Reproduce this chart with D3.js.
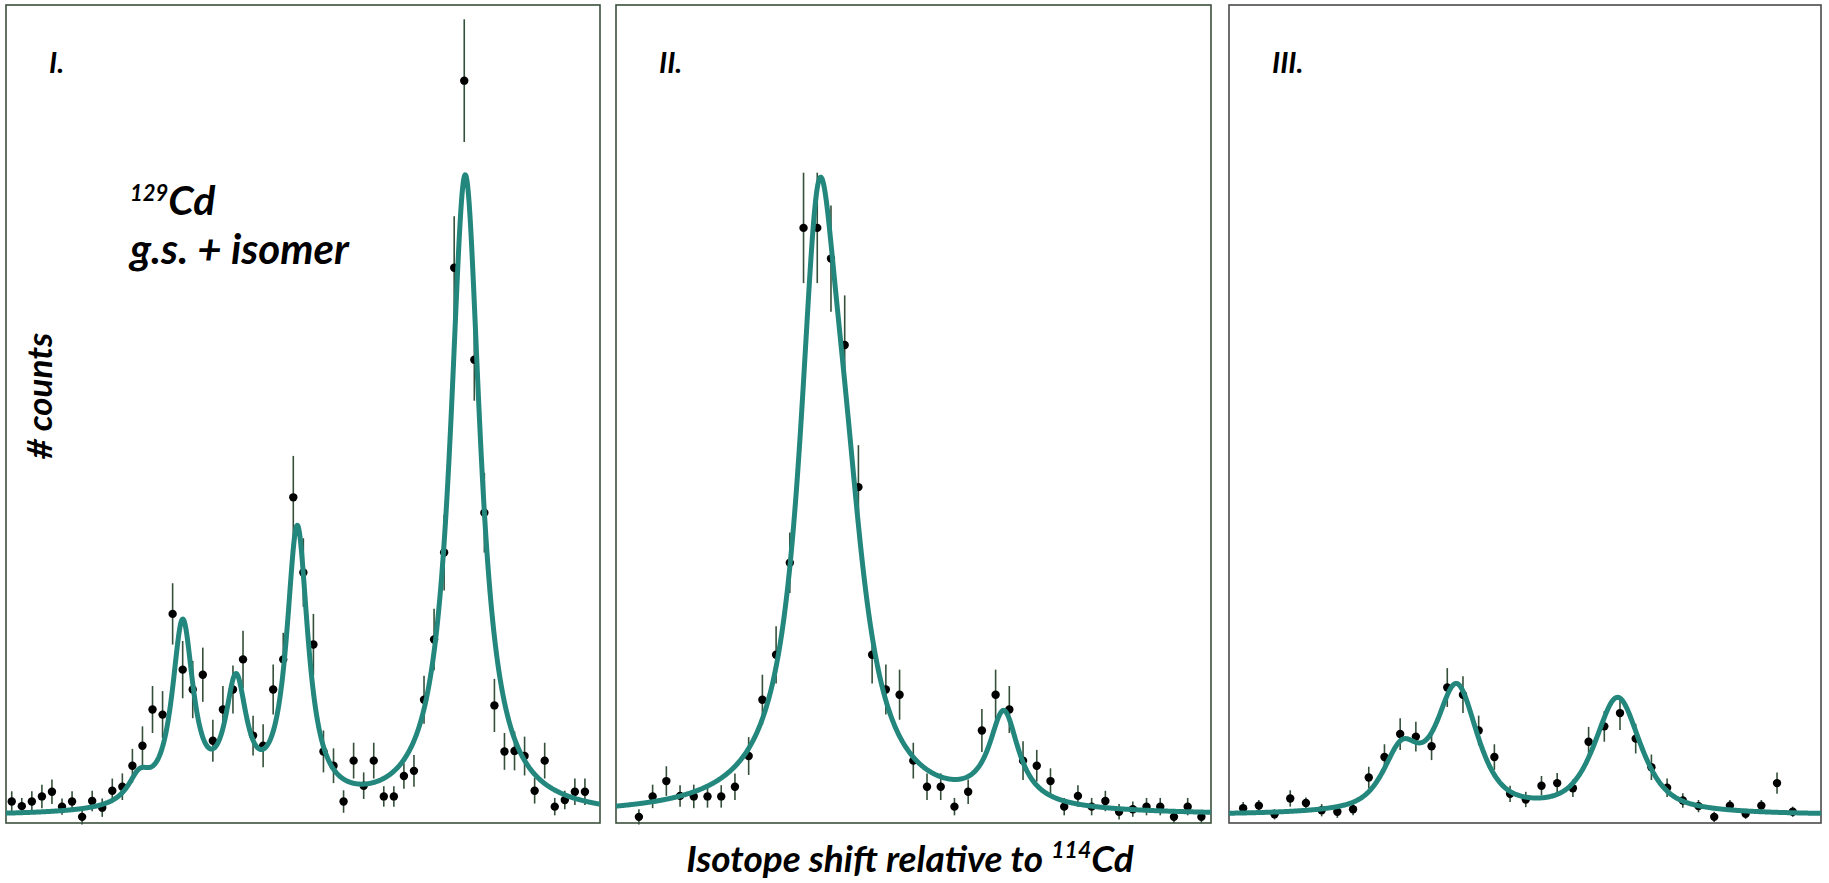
<!DOCTYPE html>
<html>
<head>
<meta charset="utf-8">
<script src="https://cdnjs.cloudflare.com/ajax/libs/d3/7.8.5/d3.min.js"></script>
<style>
body{margin:0;background:#fff;}
svg text{font-family:Lato,"Open Sans",sans-serif;font-weight:bold;font-style:italic;fill:#000;}
</style>
</head>
<body>
<svg id="chart" width="1829" height="883"></svg>
<script>
// counts per scan step
var panelNames = ["I.", "II.", "III."];

var countsI = [4.2,3.3,4.2,5.2,6.1,3.2,4.2,1.2,4.3,3.0, 6.3,7.1,11.2,15.1,22.2,21.2,40.9,30.0,26.1,29.0,
    16.1,22.2,26.1,32.0,17.1,15.1,26.1,32.0,63.7,49.0, 34.9,14.0,11.2,4.2,12.2,7.3,12.2,5.2,5.2,9.2,
    10.2,24.1,35.9,52.9,108.6,145.2,90.6,60.7,23.0,14.0, 14.1,13.1,6.3,12.2,3.2,4.5,6.1,6.1];
var errorsI = [2.0,1.6,2.0,2.3,2.4,1.6,2.0,1.5,2.0,1.8, 2.4,2.6,3.3,3.8,4.6,4.6,6.0,5.6,5.6,5.3,
    4.1,4.6,4.7,5.6,3.9,4.2,4.9,5.2,8.1,6.7, 6.0,4.1,3.4,2.2,3.5,2.6,3.5,2.0,2.0,2.5,
    3.1,4.7,6.0,7.4,10.1,12.0,8.0,7.8,5.2,3.6, 3.8,3.8,2.5,3.5,1.7,1.8,2.6,2.6];

var countsII = [1.2,5.2,8.2,5.3,5.2,5.2,5.2,7.1,13.1,24.1, 32.9,50.9,116.4,116.4,110.4,93.5,65.7,32.9,26.1,25.1,
    12.2,7.1,7.1,3.2,6.1,18.1,25.1,22.2,12.2,11.2, 8.2,3.2,5.3,3.2,4.3,2.2,2.7,3.2,3.2,1.2, 3.2,1.2];
var errorsII = [1.5,2.3,2.9,2.1,2.3,2.2,2.2,2.6,3.7,4.9, 5.6,5.9,10.8,10.8,10.4,9.7,8.2,5.6,4.9,4.9,
    3.5,2.6,2.6,1.7,2.4,4.2,4.9,4.6,3.8,3.1, 2.5,1.7,2.1,1.7,2.0,1.5,1.5,1.7,1.7,1.2, 1.7,1.2];

var countsIII = [2.9,3.4,1.7,4.8,3.9,2.5,2.2,2.7,8.9,12.9, 17.4,16.9,15.0,26.5,25.1,18.1,12.9,5.7,4.6,7.3,
    7.8,6.8,15.9,18.9,21.5,16.5,10.9,6.9,4.4,3.3, 1.2,3.4,1.8,3.4,7.8,2.2];
var errorsIII = [1.2,1.1,1.0,1.6,1.1,1.2,1.2,1.2,2.1,2.5, 3.1,2.9,2.7,3.8,3.6,2.9,2.5,1.6,1.5,1.9,
    2.0,1.7,2.9,3.0,3.3,2.9,2.5,1.8,1.4,1.2, 1.0,1.1,1.0,1.1,2.1,1.0];

// fitted peaks (centre in scan steps, height in counts, half width)
var fitCentresI = [12.7, 17.0, 22.3, 28.4, 45.1];
var fitHeightsI = [5.2, 35.6, 22.7, 54.0, 125.0];
var fitWidthsI = [1.4, 1.3, 1.3, 1.3, 1.8];
var fitCentresII = [13.1, 15.0, 26.6];
var fitHeightsII = [105.0, 38.0, 18.0];
var fitWidthsII = [1.7, 1.9, 1.3];
var fitCentresIII = [10.1, 13.6, 23.85];
var fitHeightsIII = [11.35, 24.2, 22.6];
var fitWidthsIII = [1.4, 1.6, 1.75];
var fitBackground = [1.3, 1.4, 1.5];
var fitLorentzFrac = [1.0, 1.0, 0.7];

var scanRange = [[-0.57, 58.5], [-1.67, 41.7], [-0.9, 36.8]];
var countRange = [0, 160];

var svg = d3.select("#chart");
var boxes = [{x0:6, x1:600}, {x0:616, x1:1211}, {x0:1229, x1:1821}];
var plotTop = 5, plotBottom = 823;

var panels = [
    {counts:countsI, errors:errorsI, c:fitCentresI, h:fitHeightsI, w:fitWidthsI},
    {counts:countsII, errors:errorsII, c:fitCentresII, h:fitHeightsII, w:fitWidthsII},
    {counts:countsIII, errors:errorsIII, c:fitCentresIII, h:fitHeightsIII, w:fitWidthsIII}
];

function fitValue(p, k, x){
    var eta = fitLorentzFrac[k];
    var sum = fitBackground[k];
    for(var j=0;j<p.c.length;j++){
        var d = x - p.c[j], g = p.w[j];
        var L = g*g/(d*d + g*g);
        var G = Math.exp(-Math.LN2*d*d/(g*g));
        sum += p.h[j]*(eta*L + (1-eta)*G);
    }
    return sum;
}

var y = d3.scaleLinear().domain(countRange).range([plotBottom, plotTop]);

panels.forEach(function(p, k){
    var box = boxes[k];
    var x = d3.scaleLinear().domain(scanRange[k]).range([box.x0, box.x1]);
    var g = svg.append("g").attr("class", "panel");

    g.append("rect")
        .attr("x", box.x0).attr("y", plotTop)
        .attr("width", box.x1 - box.x0).attr("height", plotBottom - plotTop)
        .attr("fill", "none")
        .attr("stroke", k == 2 ? "#4a4a4a" : "#3c503c")
        .attr("stroke-width", 1.6);

    var pts = p.counts.map(function(v, i){ return {i:i, v:v, e:p.errors[i]}; });

    g.selectAll("line.err").data(pts).enter().append("line")
        .attr("class", "err")
        .attr("x1", function(d){ return x(d.i); })
        .attr("x2", function(d){ return x(d.i); })
        .attr("y1", function(d){ return y(d.v - d.e); })
        .attr("y2", function(d){ return y(d.v + d.e); })
        .attr("stroke", "#34503a")
        .attr("stroke-width", 1.6);

    g.selectAll("circle").data(pts).enter().append("circle")
        .attr("cx", function(d){ return x(d.i); })
        .attr("cy", function(d){ return y(d.v); })
        .attr("r", 4.2)
        .attr("fill", "#000");

    var xs = d3.range(scanRange[k][0], scanRange[k][1] + 0.001, 0.05);
    var line = d3.line()
        .x(function(d){ return x(d); })
        .y(function(d){ return y(fitValue(p, k, d)); });
    g.append("path")
        .datum(xs)
        .attr("d", line)
        .attr("fill", "none")
        .attr("stroke", "#23877d")
        .attr("stroke-width", 5)
        .attr("stroke-linejoin", "round");

    g.append("text")
        .attr("x", box.x0 + 43).attr("y", 73)
        .attr("font-size", 29)
        .text(panelNames[k]);
});

// isotope annotation in panel I
var iso = svg.append("text").attr("x", 130).attr("y", 215);
iso.append("tspan").attr("font-size", 22).attr("dy", -14).text("129");
iso.append("tspan").attr("font-size", 41).attr("dy", 14).text("Cd");
svg.append("text").attr("x", 130).attr("y", 264).attr("font-size", 42).text("g.s. + isomer");

svg.append("text")
    .attr("transform", "translate(52,396) rotate(-90)")
    .attr("text-anchor", "middle")
    .attr("font-size", 35)
    .text("# counts");

var xl = svg.append("text").attr("x", 910).attr("y", 872).attr("text-anchor", "middle");
xl.append("tspan").attr("font-size", 37).text("Isotope shift relative to ");
xl.append("tspan").attr("font-size", 23).attr("dy", -14).text("114");
xl.append("tspan").attr("font-size", 37).attr("dy", 14).text("Cd");
</script>
</body>
</html>
